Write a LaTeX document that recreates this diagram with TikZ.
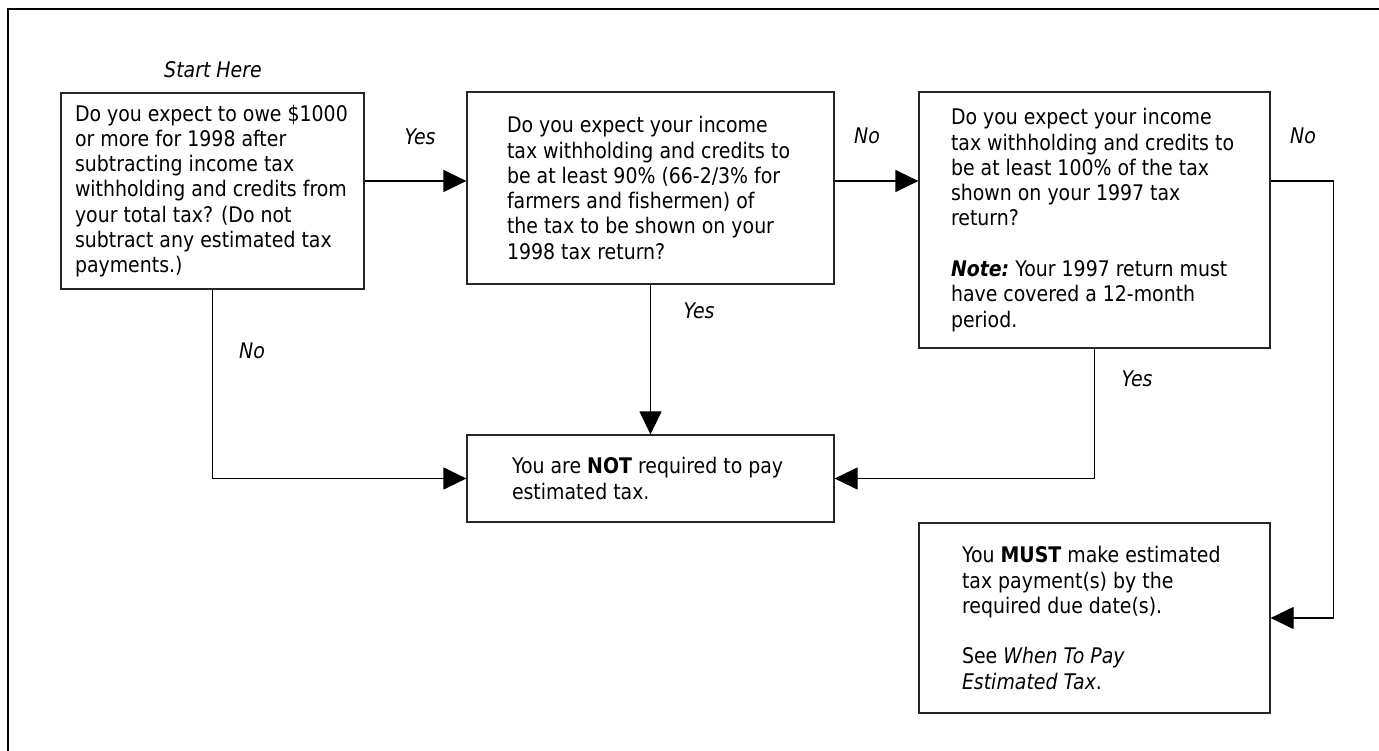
\documentclass[tikz,border=0pt]{standalone}
\usepackage{fontspec}
\setmainfont{DejaVu Sans}[FakeStretch=0.88, Ligatures=NoCommon]
\usetikzlibrary{arrows.meta, positioning}

\begin{document}
\begin{tikzpicture}[
            x = 1pt, y = -1pt, % one unit per pixel, y going down
            > = {Triangle[length=23pt, width=22pt]}, % arrow head style
            line width = 1.2pt % line style
        ]

        \tikzstyle{qbox}=[
            draw = black!85,
            rectangle,
            inner sep = 0pt
        ]
        \tikzstyle{qtext}=[
            align = left,
            inner sep = 0pt,
            font = \fontsize{21.5}{25.3}\selectfont
        ]
        \tikzstyle{answer}=[
            inner sep = 0pt,
            font = \fontsize{21.5}{25.3}\selectfont\itshape
        ]

        \useasboundingbox (0,0) rectangle (1379,751);
        \draw[line width = 1.6pt] (1379,9) -- (8,9) -- (8,751);

        % the boxes
        \node[qbox, minimum width=303pt, minimum height=196pt] (q1) at (212.5,191) {};
        \node[qbox, minimum width=367pt, minimum height=192pt] (q2) at (650.5,188) {};
        \node[qbox, minimum width=351pt, minimum height=256pt] (q3) at (1094.5,220) {};
        \node[qbox, minimum width=367pt, minimum height=87pt] (notreq) at (650.5,478.5) {};
        \node[qbox, minimum width=351pt, minimum height=190pt] (must) at (1094.5,618) {};

        % their texts
        \node[qtext, right=14pt of q1.west] (q1t)
            {Do you expect to owe \$1000\\ or more for 1998 after\\ subtracting income tax\\
             withholding and credits from\\ your total tax? (Do not\\ subtract any estimated tax\\ payments.)};
        \node[qtext, right=40pt of q2.west] (q2t)
            {Do you expect your income\\ tax withholding and credits to\\ be at least 90\% (66-2/3\% for\\
             farmers and fishermen) of\\ the tax to be shown on your\\ 1998 tax return?};
        \node[qtext, right=32pt of q3.west] (q3t)
            {Do you expect your income\\ tax withholding and credits to\\ be at least 100\% of the tax\\
             shown on your 1997 tax\\ return?\\[25.3pt]
             \textbf{\textit{Note:}}\ Your 1997 return must\\ have covered a 12-month\\ period.};
        \node[qtext, right=45pt of notreq.west] (notreqt)
            {You are \textbf{NOT} required to pay\\ estimated tax.};
        \node[qtext, right=43pt of must.west] (mustt)
            {You \textbf{MUST} make estimated\\ tax payment(s) by the\\ required due date(s).\\[25.3pt]
             See \textit{When To Pay}\\ \textit{Estimated Tax}.};

        \node[answer] (start) at (213,70) {Start Here};
        \node[answer] (yes1) at (420,137) {Yes};
        \node[answer] (no2) at (867,136) {No};
        \node[answer] (no3) at (1303,136) {No};
        \node[answer] (yes2) at (699,311) {Yes};
        \node[answer] (no1) at (252,351) {No};
        \node[answer] (yes3) at (1137,379) {Yes};

        \draw[->] (q1.east |- 0,181) -- (q2.west |- 0,181);
        \draw[->] (q2.east |- 0,181) -- (q3.west |- 0,181);
        \draw[->] (q3.east |- 0,181) -- ++(63,0) |- (must.east);
        \draw[->] (q1.south) |- (notreq.west);
        \draw[->] (q2.south) -- (notreq.north);
        \draw[->] (q3.south) |- (notreq.east);

\end{tikzpicture}
\end{document}
